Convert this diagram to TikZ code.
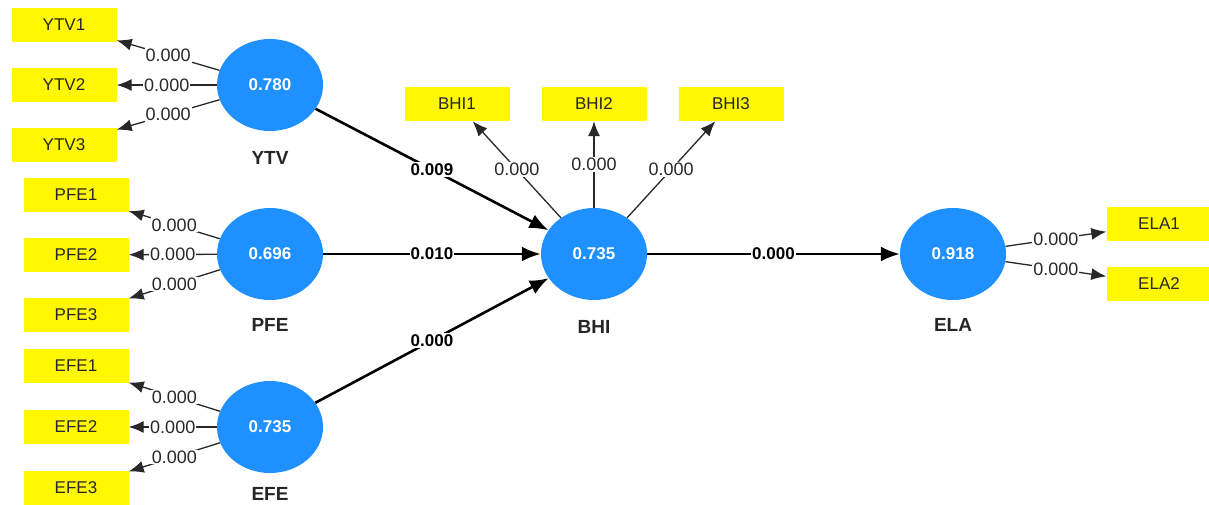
\documentclass[tikz,border=0pt]{standalone}
\usepackage{fontspec}
\setmainfont{Liberation Sans}
\usetikzlibrary{shapes.geometric, arrows.meta}

\definecolor{lvblue}{RGB}{30,144,255}
\definecolor{mvyellow}{RGB}{255,248,0}
\definecolor{loadgray}{RGB}{40,40,40}

\begin{document}
\begin{tikzpicture}[x=1pt, y=-1pt,
  latent/.style={ellipse, fill=lvblue, minimum width=106pt, minimum height=92pt, inner sep=0pt,
    text=white, font=\fontsize{17}{19}\selectfont\bfseries},
  indicator/.style={rectangle, fill=mvyellow, minimum width=105pt, minimum height=34pt, inner sep=0pt,
    text=loadgray, font=\fontsize{17}{19}\selectfont},
  lvname/.style={font=\fontsize{19}{21}\selectfont\bfseries, text=black!85},
  loading/.style={draw=loadgray, line width=1.3pt, -{Latex[length=15pt, width=12pt]}},
  path/.style={draw=black, line width=2.6pt, -{Latex[length=19pt, width=15pt]}},
  lab/.style={fill=white, inner sep=1pt, text=loadgray, font=\fontsize{18}{20}\selectfont},
  blab/.style={fill=white, inner sep=1pt, text=black, font=\fontsize{17}{19}\selectfont\bfseries}]

\useasboundingbox[fill=white] (0,0) rectangle (1209,504);

%draw the latent variables
\node[latent] (YTV) at (270,85) {0.780};
\node[latent] (PFE) at (270,254) {0.696};
\node[latent] (EFE) at (270,427) {0.735};
\node[latent] (BHI) at (594,254) {0.735};
\node[latent] (ELA) at (953,254) {0.918};

\node[lvname] (YTVname) at (270,158) {YTV};
\node[lvname] (PFEname) at (270,325) {PFE};
\node[lvname] (EFEname) at (270,494) {EFE};
\node[lvname] (BHIname) at (594,327) {BHI};
\node[lvname] (ELAname) at (953,325) {ELA};

%draw the indicators
\node[indicator] (YTV1) at (64,25) {YTV1};
\node[indicator] (YTV2) at (64,85) {YTV2};
\node[indicator] (YTV3) at (64,145) {YTV3};

\node[indicator] (PFE1) at (76,195) {PFE1};
\node[indicator] (PFE2) at (76,255) {PFE2};
\node[indicator] (PFE3) at (76,315) {PFE3};

\node[indicator] (EFE1) at (76,366) {EFE1};
\node[indicator] (EFE2) at (76,427) {EFE2};
\node[indicator] (EFE3) at (76,488) {EFE3};

\node[indicator] (BHI1) at (457,104) {BHI1};
\node[indicator] (BHI2) at (594,104) {BHI2};
\node[indicator] (BHI3) at (731,104) {BHI3};

\node[indicator] (ELA1) at (1159,224) {ELA1};
\node[indicator] (ELA2) at (1159,284) {ELA2};

%outer loadings
\draw[loading] (YTV) -- node[lab] {0.000} (YTV1);
\draw[loading] (YTV) -- node[lab] {0.000} (YTV2);
\draw[loading] (YTV) -- node[lab] {0.000} (YTV3);

\draw[loading] (PFE) -- node[lab] {0.000} (PFE1);
\draw[loading] (PFE) -- node[lab] {0.000} (PFE2);
\draw[loading] (PFE) -- node[lab] {0.000} (PFE3);

\draw[loading] (EFE) -- node[lab] {0.000} (EFE1);
\draw[loading] (EFE) -- node[lab] {0.000} (EFE2);
\draw[loading] (EFE) -- node[lab] {0.000} (EFE3);

\draw[loading] (BHI) -- node[lab] {0.000} (BHI1);
\draw[loading] (BHI) -- node[lab] {0.000} (BHI2);
\draw[loading] (BHI) -- node[lab] {0.000} (BHI3);

\draw[loading] (ELA) -- node[lab] {0.000} (ELA1);
\draw[loading] (ELA) -- node[lab] {0.000} (ELA2);

%structural paths
\draw[path] (YTV) -- node[blab] {0.009} (BHI);
\draw[path] (PFE) -- node[blab] {0.010} (BHI);
\draw[path] (EFE) -- node[blab] {0.000} (BHI);
\draw[path] (BHI) -- node[blab] {0.000} (ELA);

\end{tikzpicture}
\end{document}
